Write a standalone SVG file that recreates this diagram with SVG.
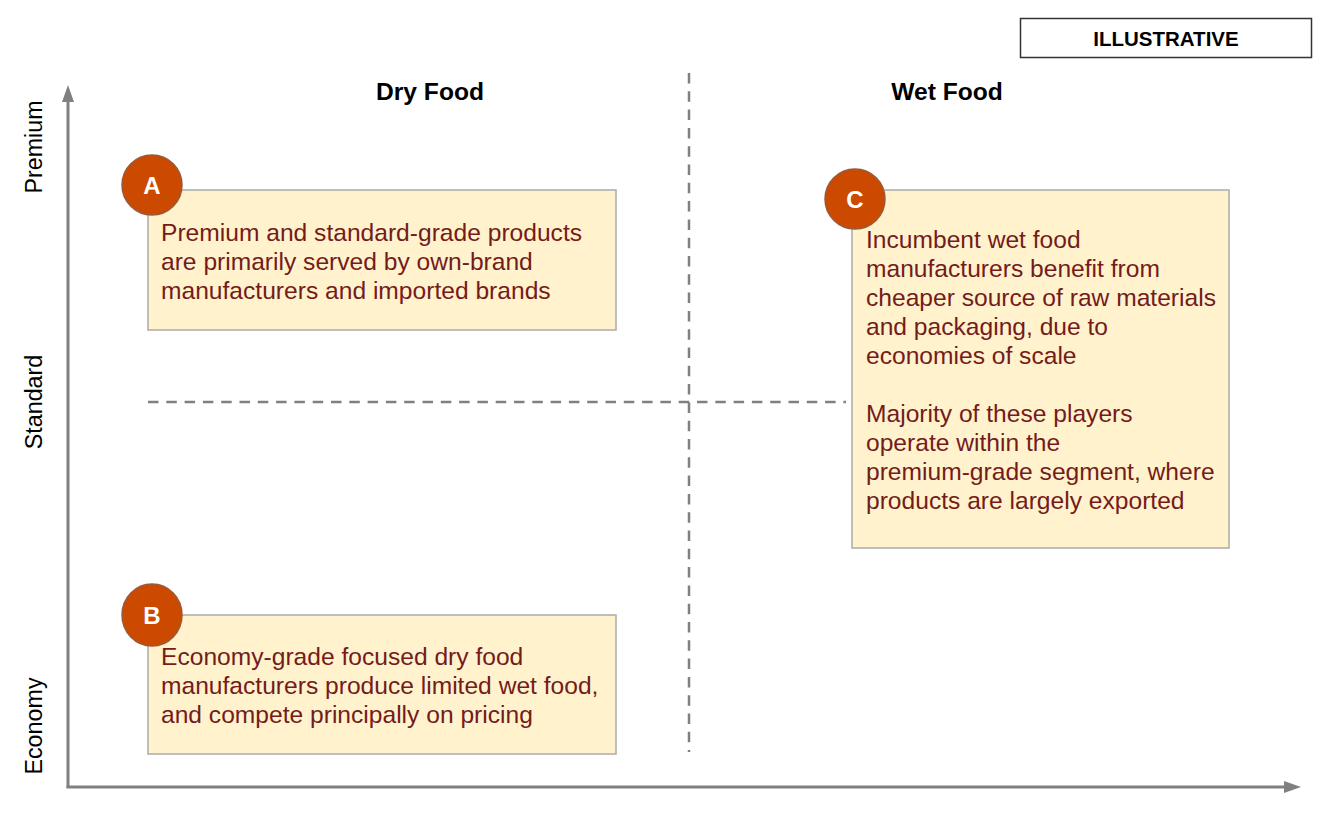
<svg xmlns="http://www.w3.org/2000/svg" width="1332" height="822" viewBox="0 0 1332 822">
<defs>
<style>
.axis{stroke:#808080;stroke-width:3;fill:none}
.dash{stroke:#808080;stroke-width:2.5;stroke-dasharray:10.5 7.8;fill:none}
.box{fill:#FFF2CC;stroke:#ABABAB;stroke-width:1.5}
.badge{fill:#CC4A00;stroke:#9A5A3A;stroke-width:1.5}
.bl{font-family:"Liberation Sans",Arial,sans-serif;font-weight:bold;font-size:24px;fill:#fff;text-anchor:middle}
.bt{font-family:"Liberation Sans",Arial,sans-serif;font-size:24.6px;fill:#741B1B}
.hd{font-family:"Liberation Sans",Arial,sans-serif;font-weight:bold;font-size:24.6px;fill:#000;text-anchor:middle}
.yl{font-family:"Liberation Sans",Arial,sans-serif;font-size:23.3px;fill:#000;text-anchor:middle}
</style>
<marker id="arr" markerWidth="17" markerHeight="12" refX="0" refY="6" orient="auto" markerUnits="userSpaceOnUse">
<path d="M0,0 L17,6 L0,12 Z" fill="#808080"/>
</marker>
</defs>
<rect width="1332" height="822" fill="#fff"/>
<g id="connectors">
<line class="axis" x1="68" y1="788" x2="68" y2="102" marker-end="url(#arr)"/>
<line class="axis" x1="66.5" y1="787" x2="1284" y2="787" marker-end="url(#arr)"/>
<line class="dash" x1="689" y1="73" x2="689" y2="752"/>
<line class="dash" x1="148" y1="402" x2="846" y2="402"/>
</g>
<g id="illustrative">
<rect x="1020.5" y="18.5" width="291" height="39" fill="#fff" stroke="#333" stroke-width="1.5"/>
<text x="1166" y="46" font-family="Liberation Sans, Arial, sans-serif" font-weight="bold" font-size="20.5" text-anchor="middle">ILLUSTRATIVE</text>
</g>
<g id="headers">
<text class="hd" x="430" y="100">Dry Food</text>
<text class="hd" x="947" y="100">Wet Food</text>
</g>
<g id="ylabels">
<text class="yl" transform="translate(42,147) rotate(-90)">Premium</text>
<text class="yl" transform="translate(42,402) rotate(-90)">Standard</text>
<text class="yl" transform="translate(42,726) rotate(-90)">Economy</text>
</g>
<g id="nodeA">
<rect class="box" x="148" y="190" width="468" height="140"/>
<circle class="badge" cx="152" cy="185" r="30"/>
<text class="bl" x="152" y="194">A</text>
<text class="bt" x="161" y="241">Premium and standard-grade products</text>
<text class="bt" x="161" y="270">are primarily served by own-brand</text>
<text class="bt" x="161" y="299">manufacturers and imported brands</text>
</g>
<g id="nodeB">
<rect class="box" x="148" y="615" width="468" height="139"/>
<ellipse class="badge" cx="152" cy="615" rx="30" ry="31"/>
<text class="bl" x="152" y="624">B</text>
<text class="bt" x="161" y="665">Economy-grade focused dry food</text>
<text class="bt" x="161" y="694">manufacturers produce limited wet food,</text>
<text class="bt" x="161" y="723">and compete principally on pricing</text>
</g>
<g id="nodeC">
<rect class="box" x="852" y="190" width="377" height="358"/>
<circle class="badge" cx="855" cy="199" r="30"/>
<text class="bl" x="855" y="208">C</text>
<text class="bt" x="866" y="248">Incumbent wet food</text>
<text class="bt" x="866" y="277">manufacturers benefit from</text>
<text class="bt" x="866" y="306">cheaper source of raw materials</text>
<text class="bt" x="866" y="335">and packaging, due to</text>
<text class="bt" x="866" y="364">economies of scale</text>
<text class="bt" x="866" y="422">Majority of these players</text>
<text class="bt" x="866" y="451">operate within the</text>
<text class="bt" x="866" y="480">premium-grade segment, where</text>
<text class="bt" x="866" y="509">products are largely exported</text>
</g>
</svg>
